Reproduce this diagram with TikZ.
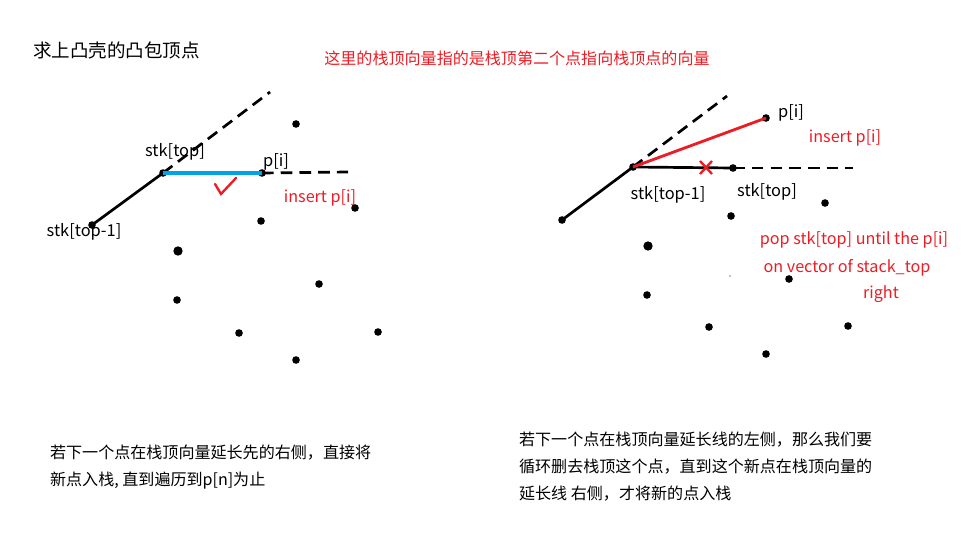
\documentclass[tikz,border=0pt]{standalone}
\usepackage{fontspec}
\setmainfont{Noto Sans CJK SC}
\definecolor{inkred}{RGB}{237,28,36}
\definecolor{inkblue}{RGB}{0,162,232}
\begin{document}
\begin{tikzpicture}[x=0.03cm, y=-0.03cm,
    dot/.style={circle, fill=black, inner sep=0pt, minimum size=6.5pt},
    bigdot/.style={dot, minimum size=8pt},
    lbl/.style={font=\fontsize{14pt}{17pt}\selectfont},
    redlbl/.style={font=\fontsize{13.8pt}{17pt}\selectfont, text=inkred},
    note/.style={font=\fontsize{13.7pt}{23pt}\selectfont, align=left, anchor=north west},
    hull/.style={line width=2.3pt},
    ext/.style={line width=2.3pt, dash pattern=on 10pt off 6pt}]
  \useasboundingbox (0,0) rectangle (965,542);
  % left: next point on the right side
  \node[anchor=west, font=\fontsize{15.8pt}{19pt}\selectfont] (title) at (29,50) {求上凸壳的凸包顶点};
  \node[text=inkred, font=\fontsize{13.7pt}{17pt}\selectfont] (remark) at (517,58) {这里的栈顶向量指的是栈顶第二个点指向栈顶点的向量};
  \node[dot] (a1) at (92,225) {};
  \node[dot] (a2) at (163,173) {};
  \node[dot] (a3) at (262,173) {};
  \coordinate (a2e) at (270,92);
  \coordinate (a3e) at (348,172);
  \draw[hull] (a1.center) -- (a2.center);
  \draw[ext] (a2.center) -- (a2e);
  \draw[line width=2.6pt, inkblue] (a2.center) -- (a3.center);
  \draw[ext] (a3.center) -- (a3e);
  \draw[line width=2pt, inkred, line cap=round] (215,184) -- (221,194) -- (236,178);
  \node[lbl] (ltop) at (175,152) {stk[top]};
  \node[lbl] (lpi) at (276,162) {p[i]};
  \node[lbl] (ltop1) at (84,232) {stk[top-1]};
  \node[redlbl] (lins) at (320,198) {insert p[i]};
  \foreach \px/\py [count=\k] in {296/124, 355/208, 261/221, 177/300, 319/284, 239/333, 378/332, 296/360}
    \node[dot] (lp\k) at (\px,\py) {};
  \node[bigdot] (lp9) at (178,251) {};
  % right: next point on the left side
  \node[dot] (b1) at (562,220) {};
  \node[dot] (b2) at (633,167) {};
  \node[dot] (b3) at (733,168) {};
  \node[dot] (b4) at (766,118) {};
  \coordinate (b2e) at (727,96);
  \coordinate (b3e) at (853,168);
  \draw[hull] (b1.center) -- (b2.center) -- (b3.center);
  \draw[ext] (b2.center) -- (b2e);
  \draw[ext] (b3.center) -- (b3e);
  \draw[line width=2.4pt, inkred] (b2.center) -- (b4.center);
  \draw[line width=2pt, inkred] (700,161) -- (712,174) (712,161) -- (700,174);
  \node[lbl] (rpi) at (791,113) {p[i]};
  \node[lbl] (rtop1) at (668,195) {stk[top-1]};
  \node[lbl] (rtop) at (767,192) {stk[top]};
  \node[redlbl] (rins) at (845,138) {insert p[i]};
  \node[redlbl] (rpop1) at (854,240) {pop stk[top] until the p[i]};
  \node[redlbl] (rpop2) at (847,268) {on vector of stack\_top};
  \node[redlbl] (rpop3) at (881,294) {right};
  \foreach \px/\py [count=\k] in {825/203, 731/216, 647/295, 789/279, 709/327, 848/326, 766/354}
    \node[dot] (rp\k) at (\px,\py) {};
  \node[bigdot] (rp8) at (648,246) {};
  \node[circle, fill=black, inner sep=0pt, minimum size=1.2pt] (rp9) at (730,276) {};
  % notes
  \node[note] (lnote) at (46,441) {若下一个点在栈顶向量延长先的右侧，直接将\\新点入栈, 直到遍历到p[n]为止};
  \node[note] (rnote) at (515,428) {若下一个点在栈顶向量延长线的左侧，那么我们要\\循环删去栈顶这个点，直到这个新点在栈顶向量的\\延长线 右侧，才将新的点入栈};
\end{tikzpicture}
\end{document}
